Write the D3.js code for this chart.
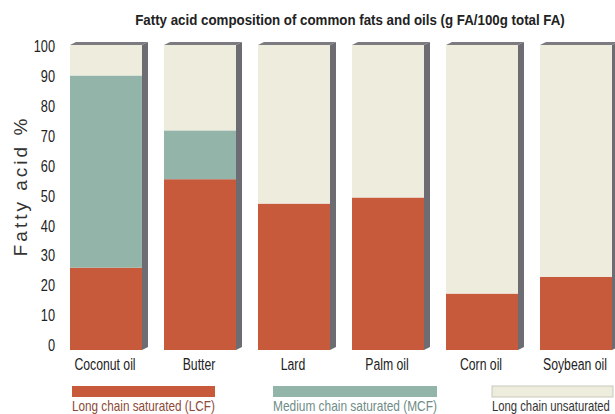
<!DOCTYPE html>
<html>
<head>
<meta charset="utf-8">
<script src="https://cdn.jsdelivr.net/npm/d3@7"></script>
<style>
  body { margin: 0; background: #fff; }
  svg { display: block; }
  text { font-family: "Liberation Sans", Arial, sans-serif; }
</style>
</head>
<body>
<div id="chart"></div>
<script>
// values (g FA / 100 g total FA)
const categories = ["Coconut oil", "Butter", "Lard", "Palm oil", "Corn oil", "Soybean oil"];
const lcf = [27, 56, 48, 50, 18.5, 24];   // long chain saturated
const mcf = [63, 16, 0, 0, 0, 0];          // medium chain saturated
const lcu = [10, 28, 52, 50, 81.5, 76];    // long chain unsaturated
const yTicks = [0, 10, 20, 30, 40, 50, 60, 70, 80, 90, 100];
const seriesKeys = ["lcf", "mcf", "lcu"];
const seriesNames = ["Long chain saturated (LCF)", "Medium chain saturated (MCF)", "Long chain unsaturated"];

const colors = { lcf: "#c85a3c", mcf: "#93b4a9", lcu: "#eeecdc" };
const legendText = { lcf: "#8b4a38", mcf: "#6f8c86", lcu: "#333" };

const width = 615, height = 414;

const rows = categories.map((c, i) => ({ name: c, lcf: lcf[i], mcf: mcf[i], lcu: lcu[i] }));
const stacked = d3.stack().keys(seriesKeys)(rows);

const svg = d3.select("#chart").append("svg")
  .attr("width", width)
  .attr("height", height);

// no condensed font installed, so squeeze horizontally with a transform
// f: fixed factor, or a function (len, i) => factor
function narrow(sel, f) {
  sel.each(function(d, i) {
    const t = d3.select(this);
    const len = this.getComputedTextLength();
    const k = typeof f === "function" ? f(len, i) : f;
    const tx = +t.attr("x") || 0, ty = +t.attr("y") || 0;
    t.attr("x", 0).attr("y", 0)
      .attr("transform", `translate(${tx},${ty}) scale(${k},1)`);
  });
}

const x = d3.scaleBand().domain(categories).range([70, 612]).paddingInner(0.234).paddingOuter(0);
const y = d3.scaleLinear().domain([0, 100]).range([350, 45]);
// tick labels sit a little off the bar scale in the original
const yLab = y.copy().range([345, 46]);

const dx = 6, dy = 3;

// 3D side and top of each column
const depth = svg.append("g");
categories.forEach(c => {
  const x0 = x(c), x1 = x(c) + x.bandwidth();
  const top = y(100), bot = y(0);
  depth.append("path")
    .attr("d", `M${x1},${top} L${x1 + dx},${top - dy} L${x1 + dx},${bot - dy} L${x1},${bot} Z`)
    .attr("fill", "#6c6c72");
  depth.append("path")
    .attr("d", `M${x0},${top} L${x0 + dx},${top - dy} L${x1 + dx},${top - dy} L${x1},${top} Z`)
    .attr("fill", "#7b7b80");
});

svg.append("g")
  .selectAll("g")
  .data(stacked)
  .join("g")
  .attr("fill", d => colors[d.key])
  .selectAll("rect")
  .data(d => d)
  .join("rect")
  .attr("x", d => x(d.data.name))
  .attr("width", x.bandwidth())
  .attr("y", d => y(d[1]))
  .attr("height", d => y(d[0]) - y(d[1]));

// y tick labels
svg.append("g")
  .selectAll("text")
  .data(yTicks)
  .join("text")
  .attr("x", 55)
  .attr("y", d => yLab(d))
  .attr("dy", "0.36em")
  .attr("text-anchor", "end")
  .attr("font-size", 17)
  .attr("fill", "#222")
  .text(d => d)
  .call(narrow, 0.75);

// category labels
svg.append("g")
  .selectAll("text")
  .data(categories)
  .join("text")
  .attr("x", d => x(d) + x.bandwidth() / 2 - 1)
  .attr("y", 370)
  .attr("text-anchor", "middle")
  .attr("font-size", 17)
  .attr("fill", "#222")
  .text(d => d)
  .call(narrow, len => Math.min(0.72, 64 / len));

// y axis title
svg.append("text")
  .attr("transform", "translate(27,186) rotate(-90)")
  .attr("text-anchor", "middle")
  .attr("font-size", 19)
  .attr("letter-spacing", 3)
  .attr("fill", "#333")
  .text("Fatty acid %");

// title
svg.append("text")
  .attr("x", 350)
  .attr("y", 25)
  .attr("text-anchor", "middle")
  .attr("font-size", 15)
  .attr("font-weight", "bold")
  .attr("fill", "#222")
  .text("Fatty acid composition of common fats and oils (g FA/100g total FA)")
  .call(narrow, len => 430 / len);

// legend
const legendX = [72, 273, 492];
const legendW = [143, 164, 118];
const legend = svg.append("g").selectAll("g")
  .data(seriesKeys)
  .join("g")
  .attr("transform", (d, i) => `translate(${legendX[i]},386)`);

legend.append("rect")
  .attr("width", (d, i) => i === 2 ? 121 : legendW[i])
  .attr("height", 11)
  .attr("fill", d => colors[d])
  .attr("stroke", d => d === "lcu" ? "#c9c8bc" : "none");

legend.append("text")
  .attr("y", 25)
  .attr("font-size", 14)
  .attr("fill", d => legendText[d])
  .text((d, i) => seriesNames[i])
  .call(narrow, (len, i) => legendW[i] / len);
</script>
</body>
</html>
